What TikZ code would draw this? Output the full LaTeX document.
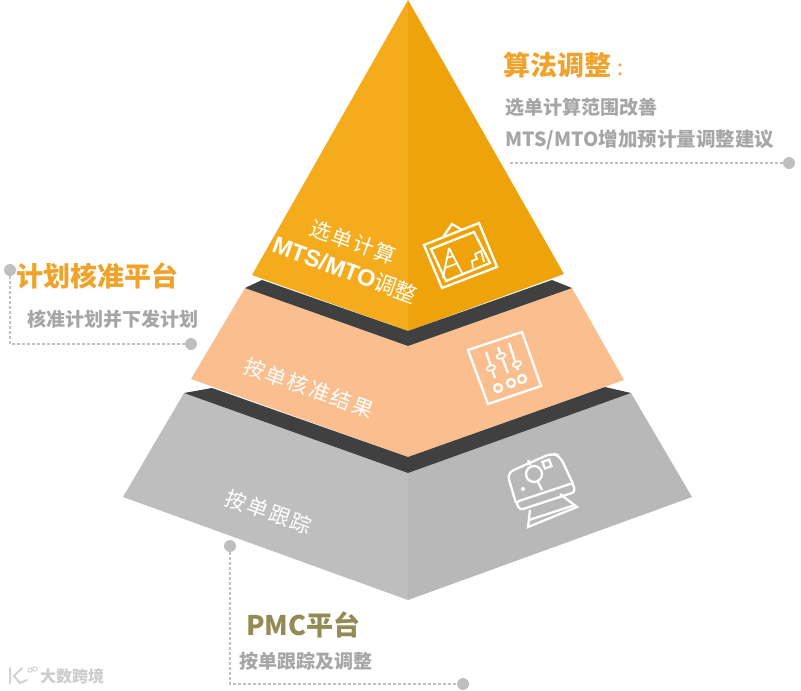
\documentclass[tikz,border=0pt]{standalone}
\usepackage{fontspec}
\setmainfont{Noto Sans CJK SC}
\newfontfamily\arialfont{Liberation Sans}
\definecolor{amberL}{HTML}{F5AC1C}
\definecolor{amberR}{HTML}{EFA30A}
\definecolor{peach}{HTML}{FBBF8F}
\definecolor{band}{HTML}{404040}
\definecolor{stoneL}{HTML}{BEBEBE}
\definecolor{stoneR}{HTML}{B8B8B8}
\definecolor{headamber}{HTML}{F0A32A}
\definecolor{headolive}{HTML}{948B54}
\definecolor{subgray}{HTML}{A6A6A6}
\definecolor{dotgray}{HTML}{BFBFBF}

\begin{document}
\begin{tikzpicture}[x=1pt,y=-1pt,
  enddot/.style={circle,fill=dotgray,minimum size=12pt,inner sep=0pt},
  leader/.style={dotgray,line width=2.8pt,dash pattern=on 2.6pt off 2.4pt},
  headtext/.style={anchor=west,inner sep=0pt,font=\fontsize{27}{30}\selectfont\bfseries},
  subtext/.style={anchor=west,inner sep=0pt,text=subgray,font=\fontsize{19}{22}\selectfont\bfseries},
  facetext/.style={inner sep=0pt,text=white,rotate=-20,font=\fontsize{21}{24}\selectfont},
  iconline/.style={white,line width=2.3pt,line join=miter}]
\useasboundingbox (0,0) rectangle (801,691);
% lower layer
\fill[stoneL] (184,393)--(408,473)--(408,600)--(123,497)--cycle;
\fill[stoneR] (631,393)--(408,473)--(408,600)--(692,497)--cycle;
% middle layer
\fill[peach] (245,288)--(408,346)--(572,288)--(624,380)--(408,457)--(191,379)--cycle;
\fill[band] (184,393)--(212,388)--(408,457)--(605,387)--(631,393)--(408,473)--cycle;
% top
\fill[amberL] (408,0)--(252,275)--(408,331)--cycle;
\fill[amberR] (408,0)--(564,274)--(408,331)--cycle;
\fill[band] (245,288)--(262,280)--(408,331)--(552,280)--(572,288)--(408,346)--cycle;
% labels on the faces
\node[facetext] (faceTopA) at (353,242) {\addfontfeature{LetterSpace=8}选单计算};
\node[facetext] (faceTopB) at (345,270) {\fontsize{23.5}{26}\selectfont\arialfont\bfseries MTS/MTO\fontsize{22}{24}\selectfont\normalfont 调整};
\node[facetext] (faceMid) at (309,388) {\addfontfeature{LetterSpace=10}按单核准结果};
\node[facetext] (faceLow) at (269,512) {\addfontfeature{LetterSpace=10}按单跟踪};
% picture icon
\draw[iconline] (424,245)--(479,223)--(497,267)--(442,288)--cycle;
\draw[iconline] (431,249)--(474,232)--(490,263)--(446,281)--cycle;
\draw[iconline] (443,237)--(452,224)--(462,230);
\draw[iconline,line width=1.8pt] (449,248)--(443,278) (449,248)--(462,273) (445,268)--(458,263) (447,258)--(453,256);
\draw[iconline,line width=1.8pt] (473,268)--(472,261)--(477,259)--(475,254)--(481,251)--(484,262);
% slider icon
\draw[iconline] (468,350)--(522,332)--(541,386)--(488,404)--cycle;
\foreach \xa/\ya/\xb/\yb/\xk/\yk in {486/352/495/378/491/368,498/347/508/373/501/356,509/343/518/370/517/364}{
  \draw[iconline] (\xa,\ya)--(\xb,\yb);
  \draw[white,line width=1.6pt,fill=peach] (\xk,\yk) ellipse [x radius=4.5,y radius=2.6,rotate=20];}
\foreach \x/\y in {498/388,511/383,522/379}{\draw[iconline] (\x,\y) circle (4);}
% camera icon
\draw[iconline,rounded corners=7pt] (516,503)--(507,473)--(552,453)--(560,456)--(573,484);
\draw[iconline,fill=stoneR] (534,474) circle (8);
\draw[iconline] (530,465)--(528,460) (538,482)--(542,490);
\draw[iconline,rotate around={20:(547,464)}] (543.5,460.5) rectangle (550.5,467.5);
\fill[white] (523,489) circle (2);
\draw[iconline,rounded corners=3pt] (516,502)--(573,483)--(575,492)--(520,510)--cycle;
\draw[iconline] (530,510)--(528,527)--(577,507)--(560,494);
\draw[iconline] (529,520)--(575,505);
% leaders
\node[enddot] (dotTop) at (789,163) {};
\coordinate (endTop) at (508,163);
\draw[leader] (dotTop)--(endTop);
\node[enddot] (dotLeftA) at (10,270) {};
\node[enddot] (dotLeftB) at (191,344) {};
\coordinate (cornerLeft) at (10,344);
\draw[leader] (dotLeftA)--(cornerLeft)--(dotLeftB);
\node[enddot] (dotLowA) at (230,546) {};
\node[enddot] (dotLowB) at (463,684) {};
\coordinate (cornerLow) at (230,684);
\draw[leader] (dotLowA)--(cornerLow)--(dotLowB);
% side texts
\node[headtext,text=headamber] (headTop) at (503,65) {算法调整\hspace{6pt}\normalfont\fontsize{22}{24}\selectfont :};
\node[subtext] (subTopA) at (505,107) {选单计算范围改善};
\node[subtext,font=\fontsize{19.5}{22}\selectfont\bfseries] (subTopB) at (505,140) {MTS/MTO增加预计量调整建议};
\node[headtext,text=headamber] (headLeft) at (16,276) {计划核准平台};
\node[subtext] (subLeft) at (27,319) {核准计划并下发计划};
\node[headtext,text=headolive] (headLow) at (246,625) {PMC平台};
\node[subtext] (subLow) at (239,661) {按单跟踪及调整};
% watermark
\draw[gray!35,line width=2pt,line cap=round] (10,668)--(10,683) (22,668)--(14,676)--(20,683)--(27,680);
\foreach \x/\y in {30/670,35/669}{\draw[gray!35,line width=1pt] (\x,\y) circle (2.2);}
\node[anchor=west,inner sep=0pt,text=gray!40,font=\fontsize{16}{18}\selectfont\bfseries] (markText) at (40,676) {大数跨境};
\end{tikzpicture}
\end{document}
